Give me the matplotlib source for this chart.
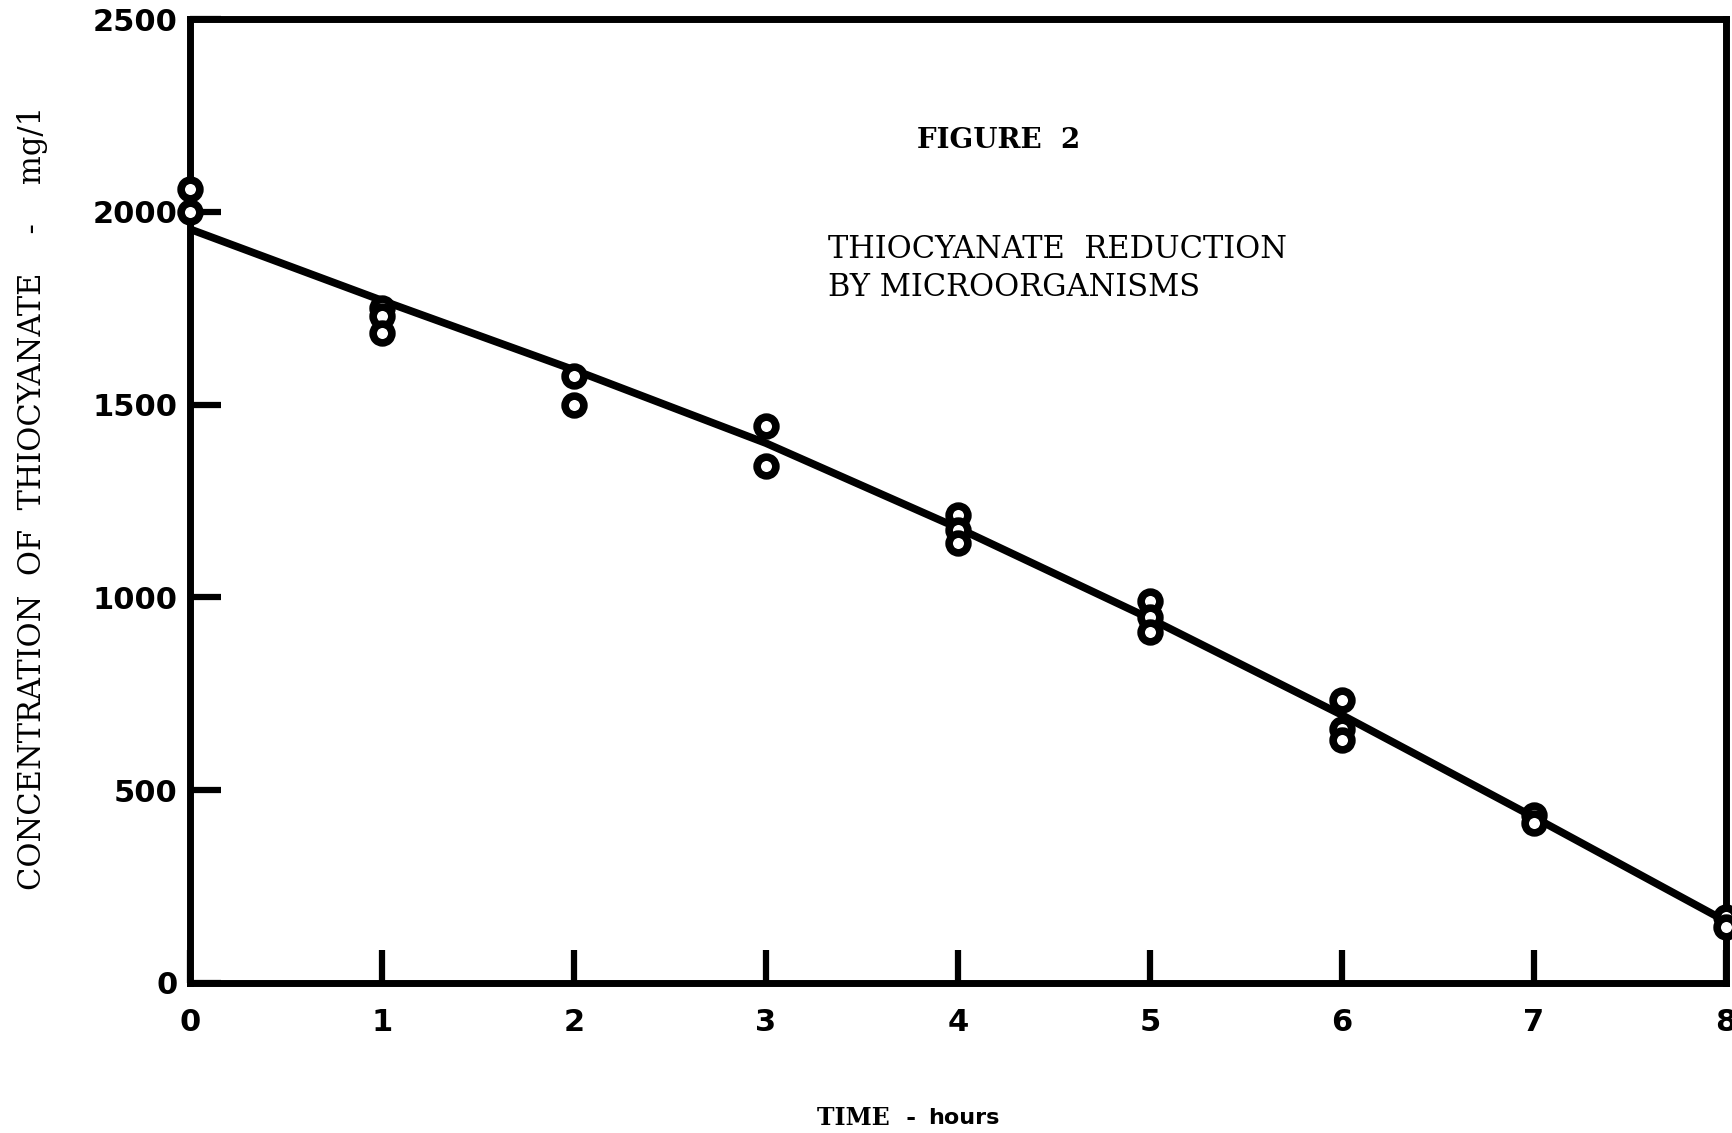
import matplotlib
matplotlib.use("Agg")
from matplotlib import pyplot as plt

# observations: time (hours) and thiocyanate concentration (mg/l)
obs_time = [0, 0, 1, 1, 1, 2, 2, 3, 3, 4, 4, 4, 5, 5, 5, 6, 6, 6, 7, 7, 8, 8]
obs_conc = [2060, 2000, 1750, 1730, 1685, 1575, 1500, 1445, 1340,
            1215, 1175, 1140, 990, 950, 910, 735, 660, 630, 435, 415, 170, 145]

# hand-drawn fitted curve, read at each hour
curve_time = [0, 1, 2, 3, 4, 5, 6, 7, 8]
curve_conc = [1955, 1770, 1590, 1400, 1180, 945, 695, 430, 160]

x_ticks = [0, 1, 2, 3, 4, 5, 6, 7, 8]
y_ticks = [0, 500, 1000, 1500, 2000, 2500]

fig = plt.figure(figsize=(17.32, 11.33), dpi=100)
ax = fig.add_axes([0.1097, 0.1324, 0.8868, 0.8508])

ax.plot(curve_time, curve_conc, color='black', lw=5.5, solid_capstyle='butt', zorder=3)
ax.plot(obs_time, obs_conc, 'o', ms=13.5, mfc='white', mec='black', mew=5.5,
        clip_on=False, zorder=4)

ax.set_xlim(0, 8)
ax.set_ylim(0, 2500)
ax.set_xticks(x_ticks)
ax.set_yticks(y_ticks)
for s in ax.spines.values():
    s.set_linewidth(5)
ax.tick_params(axis='y', direction='in', length=22, width=4.5, pad=9,
               labelsize=22)
ax.tick_params(axis='x', direction='in', length=24, width=4.5, pad=18,
               labelsize=22)
for lab in ax.get_xticklabels() + ax.get_yticklabels():
    lab.set_fontweight('bold')

fig.text(0.019, 0.5605, 'CONCENTRATION  OF  THIOCYANATE    -    mg/1', rotation=90,
         ha='center', va='center', family='DejaVu Serif', fontsize=22)
fig.text(817 / 1732, 0.013, 'TIME  -', ha='left', va='center',
         family='DejaVu Serif', fontsize=17, fontweight='bold')
fig.text(928 / 1732, 0.013, 'hours', ha='left', va='center',
         family='DejaVu Sans', fontsize=16, fontweight='bold')

fig.text(917 / 1732, 1 - 140 / 1133, 'FIGURE  2', ha='left', va='center',
         family='DejaVu Serif', fontsize=20, fontweight='bold')
fig.text(828 / 1732, 1 - 250 / 1133, 'THIOCYANATE  REDUCTION', ha='left', va='center',
         family='DejaVu Serif', fontsize=22)
fig.text(828 / 1732, 1 - 287 / 1133, 'BY MICROORGANISMS', ha='left', va='center',
         family='DejaVu Serif', fontsize=22)

fig.savefig('out.png', dpi=100)
